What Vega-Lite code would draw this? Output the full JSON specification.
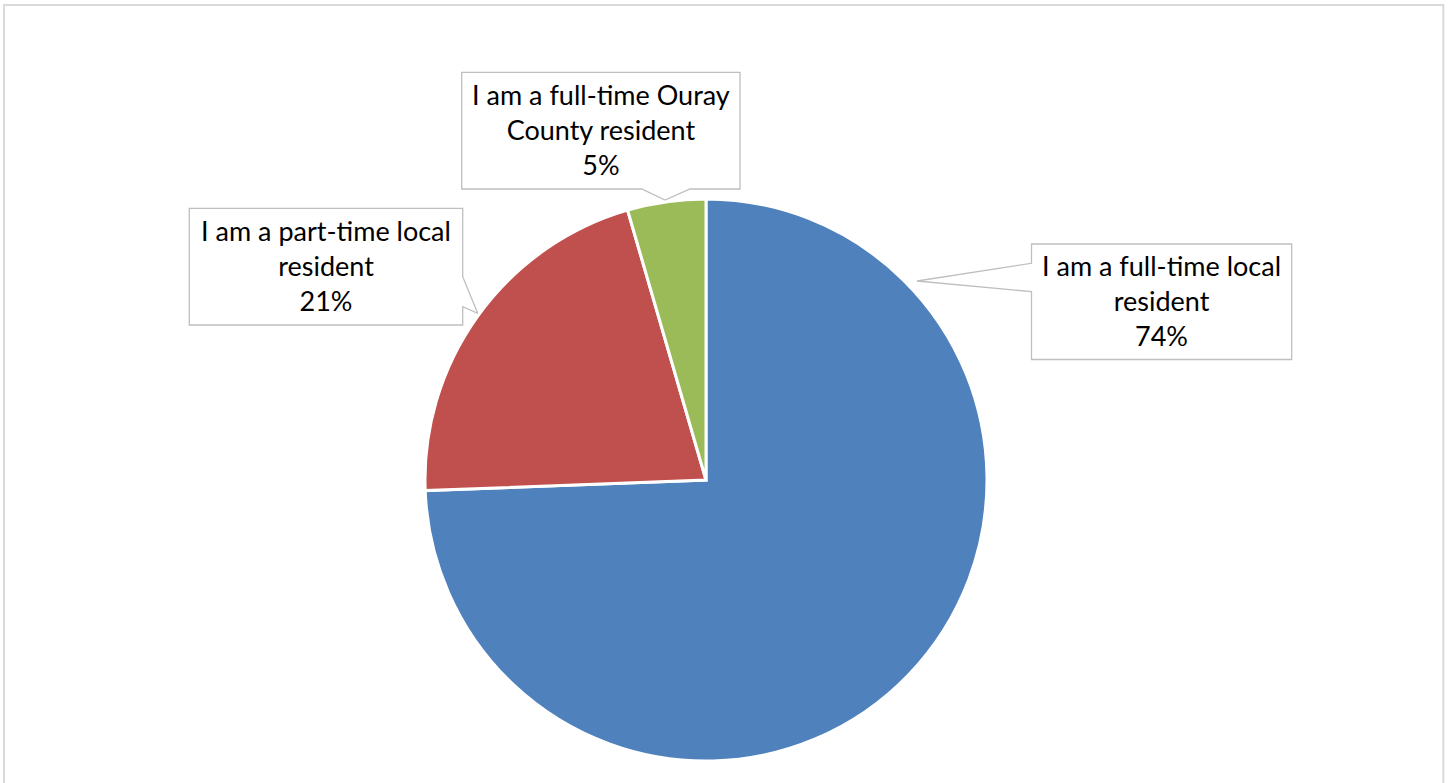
{
  "$schema": "https://vega.github.io/schema/vega-lite/v6.json",
  "width": 1412,
  "height": 606,
  "autosize": {"type": "none"},
  "padding": {"left": 0, "top": 177, "right": 38, "bottom": 0},
  "background": "white",
  "config": {"view": {"stroke": null}},
  "data": {
    "values": [
      {"category": "I am a full-time local resident", "share": 74.4, "order": 1, "label": ["I am a full-time local", "resident", "74%"]},
      {"category": "I am a part-time local resident", "share": 21.1, "order": 2, "label": ["I am a part-time local", "resident", "21%"]},
      {"category": "I am a full-time Ouray County resident", "share": 4.5, "order": 3, "label": ["I am a full-time Ouray", "County resident", "5%"]}
    ]
  },
  "layer": [
    {
      "data": {"values": [{"element": "chart border"}]},
      "mark": {"type": "point", "shape": "M-7.02,3.3V-4.75H7.373V3.3", "size": 40000, "filled": false, "stroke": "#d9d9d9", "strokeWidth": 2, "opacity": 1}
    },
    {
      "mark": {"type": "point", "size": 40000, "filled": true, "fill": "white", "stroke": "#bfbfbf", "strokeWidth": 1.3, "opacity": 1},
      "encoding": {
        "shape": {
          "field": "category",
          "type": "nominal",
          "legend": null,
          "scale": {
            "domain": ["I am a full-time local resident", "I am a part-time local resident", "I am a full-time Ouray County resident"],
            "range": [
              "M3.255,-2.36H5.857V-1.205H3.255V-1.883L2.11,-1.99L3.255,-2.167Z",
              "M-5.167,-2.717H-2.433V-2.033L-2.283,-1.667L-2.433,-1.733V-1.55H-5.167Z",
              "M-2.443,-4.077H0.34V-2.91H-0.16L-0.41,-2.8L-0.643,-2.91H-2.443Z"
            ]
          }
        }
      }
    },
    {
      "mark": {"type": "arc", "outerRadius": 281, "stroke": "white", "strokeWidth": 3},
      "encoding": {
        "theta": {"field": "share", "type": "quantitative", "stack": true},
        "order": {"field": "order", "type": "quantitative"},
        "color": {
          "field": "category",
          "type": "nominal",
          "legend": null,
          "scale": {
            "domain": ["I am a full-time local resident", "I am a part-time local resident", "I am a full-time Ouray County resident"],
            "range": ["#4F81BD", "#C0504D", "#9BBB59"]
          }
        }
      }
    },
    {
      "mark": {"type": "text", "radius": 502.63, "thetaOffset": -1.203, "font": "Lato", "fontSize": 27, "lineHeight": 35, "align": "center", "baseline": "middle", "color": "black"},
      "encoding": {
        "theta": {"field": "share", "type": "quantitative", "stack": true},
        "order": {"field": "order", "type": "quantitative"},
        "text": {"condition": {"test": "datum.order === 1", "field": "label"}, "value": ""}
      }
    },
    {
      "mark": {"type": "text", "radius": 453.38, "thetaOffset": -0.0482, "font": "Lato", "fontSize": 27, "lineHeight": 35, "align": "center", "baseline": "middle", "color": "black"},
      "encoding": {
        "theta": {"field": "share", "type": "quantitative", "stack": true},
        "order": {"field": "order", "type": "quantitative"},
        "text": {"condition": {"test": "datum.order === 2", "field": "label"}, "value": ""}
      }
    },
    {
      "mark": {"type": "text", "radius": 397.64, "thetaOffset": -0.12611, "font": "Lato", "fontSize": 27, "lineHeight": 35, "align": "center", "baseline": "middle", "color": "black"},
      "encoding": {
        "theta": {"field": "share", "type": "quantitative", "stack": true},
        "order": {"field": "order", "type": "quantitative"},
        "text": {"condition": {"test": "datum.order === 3", "field": "label"}, "value": ""}
      }
    }
  ]
}
